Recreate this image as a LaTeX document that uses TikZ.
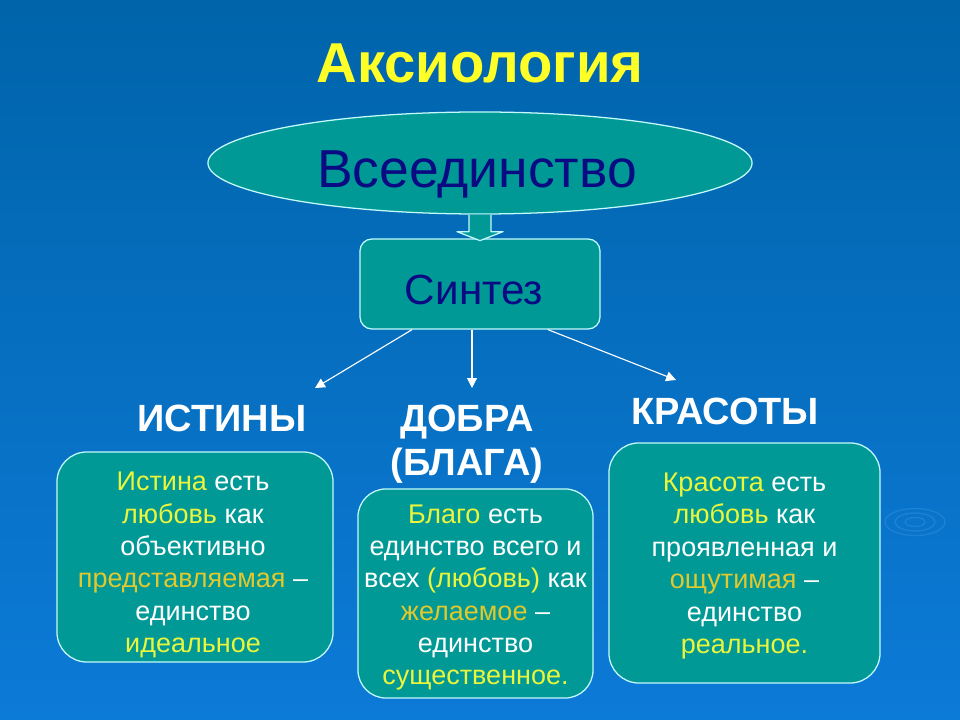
\documentclass[tikz,border=0pt]{standalone}
\usepackage{fontspec}
\setmainfont{Liberation Sans}
\usetikzlibrary{shapes.geometric,arrows.meta,calc}

\definecolor{bgtop}{RGB}{0,100,170}
\definecolor{bgbot}{RGB}{12,122,215}
\definecolor{panelteal}{RGB}{0,153,150}
\definecolor{rim}{RGB}{195,250,250}
\definecolor{inknavy}{RGB}{10,10,130}
\definecolor{titleyellow}{RGB}{255,255,40}
\definecolor{hiyellow}{RGB}{235,245,60}
\definecolor{higold}{RGB}{225,200,45}
\definecolor{ripplecol}{RGB}{60,150,225}

\newcommand{\hy}[1]{\textcolor{hiyellow}{#1}}
\newcommand{\hg}[1]{\textcolor{higold}{#1}}

\begin{document}
\begin{tikzpicture}[
				x=0.025cm,
				y=-0.025cm,
				line join=round,
				panel/.style={draw=rim, line width=0.9pt, fill=panelteal},
				textbox/.style={panel, rounded corners=0.75cm},
				boxtext/.style={align=center, text=white,
					font=\fontsize{19.2}{23}\selectfont},
				heading/.style={anchor=base, text=white,
					font=\fontsize{27}{32}\selectfont\bfseries},
				link/.style={white, line width=0.8pt,
					-{Triangle[length=7pt,width=7pt]}},
				ripple/.style={ripplecol, line width=1pt, opacity=0.4}
				]
				% Background
				\shade[top color=bgtop, bottom color=bgbot] (0,0) rectangle (960,720);
				\useasboundingbox (0,0) rectangle (960,720);
				\foreach \r in {1,2,3}
				\draw[ripple] (915,522) ellipse[x radius=10*\r, y radius=4.5*\r];
				
				% Title
				\node[anchor=base, text=titleyellow,
					font=\fontsize{40}{48}\selectfont\bfseries] (title) at (480,83) {Аксиология};
				
				% Top ellipse and synthesis box
				\node[ellipse, panel, minimum width=13.6cm, minimum height=2.55cm] (whole) at (480,163) {};
				\node[anchor=base, text=inknavy, font=\fontsize{38}{44}\selectfont] (wholetext) at (477,188) {Всеединство};
				\node[panel, rounded corners=0.3cm, minimum width=6cm, minimum height=2.25cm] (synth) at (480,284) {};
				\node[anchor=base, text=inknavy, font=\fontsize{30}{36}\selectfont] (synthtext) at (474,305) {Синтез};
				
				% Block arrow
				\begin{scope}[shift={(whole.south)}]
					\filldraw[panel] (-11,0) -- (-11,17) -- (-23,17) -- (0,26)
						-- (23,17) -- (11,17) -- (11,0);
				\end{scope}
				
				% Headings
				\node[heading] (truthhead) at (222,432) {ИСТИНЫ};
				\node[heading] (goodhead) at (467,432) {ДОБРА};
				\node[heading] (goodsub) at (467,476) {(БЛАГА)};
				\node[heading] (beautyhead) at (725,425) {КРАСОТЫ};
				
				% Arrows
				\coordinate (tipA) at (315,388);
				\coordinate (tipB) at (472,388);
				\coordinate (tipC) at (676,380);
				\draw[link] ($(synth.south)+(-68,0)$) -- (tipA);
				\draw[link] ($(synth.south)+(-8,0)$) -- (tipB);
				\draw[link] ($(synth.south)+(68,0)$) -- (tipC);
				
				% Text boxes
				\node[textbox, minimum width=6.9cm, minimum height=5.25cm] (truthbox) at (195,557) {};
				\node[boxtext] (truth) at ($(truthbox.center)+(-2,8)$)
					{\hy{Истина} есть\\ \hy{любовь} как\\ объективно\\ \hg{представляемая} –\\ единство\\ \hy{идеальное}};
				\node[textbox, rounded corners=0.7cm, minimum width=5.875cm, minimum height=5.225cm] (goodbox) at (475.5,593.5) {};
				\node[boxtext] (good) at ($(goodbox.center)+(0,4)$)
					{\hy{Благо} есть\\ единство всего и\\ всех \hy{(любовь)} как\\ \hg{желаемое} –\\ единство\\ \hy{существенное.}};
				\node[textbox, minimum width=6.775cm, minimum height=6cm] (beautybox) at (744.5,563) {};
				\node[boxtext] (beauty) at ($(beautybox.center)+(0,3)$)
					{\hy{Красота} есть\\ \hy{любовь} как\\ проявленная и\\ \hg{ощутимая} –\\ единство\\ \hy{реальное.}};
			\end{tikzpicture}
\end{document}
